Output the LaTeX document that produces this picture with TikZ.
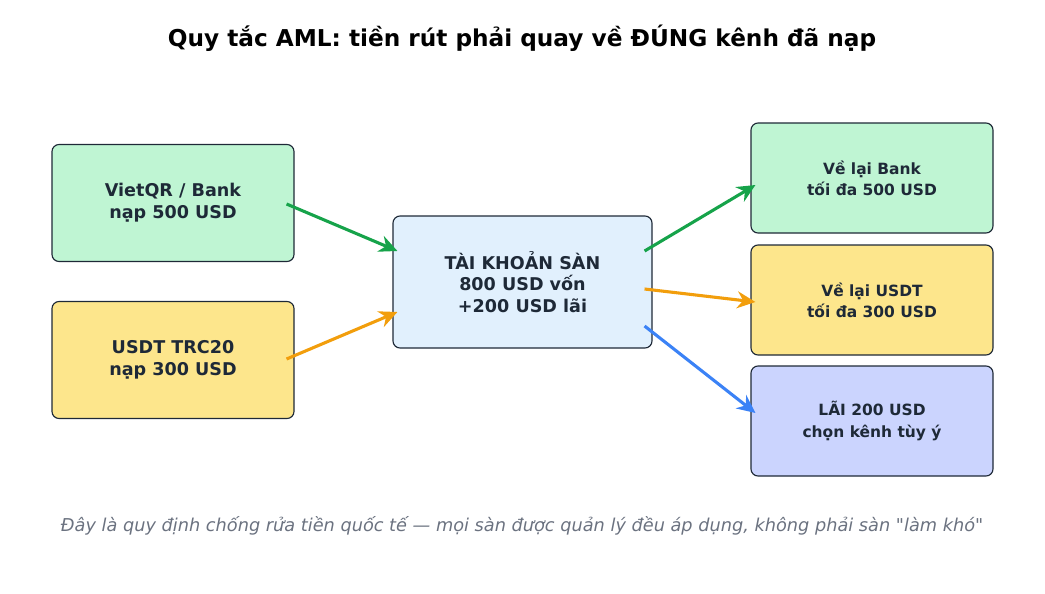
\documentclass[tikz,border=0pt]{standalone}
\usepackage{fontspec}
\setmainfont{DejaVu Sans}[Ligatures=TeXOff]
\usetikzlibrary{arrows.meta,calc}
\definecolor{boxgreen}{HTML}{BFF5D3}
\definecolor{boxyellow}{HTML}{FDE68C}
\definecolor{boxblue}{HTML}{E1F0FD}
\definecolor{boxviolet}{HTML}{CBD4FE}
\definecolor{edge}{HTML}{1E2937}
\definecolor{argreen}{HTML}{16A34A}
\definecolor{arorange}{HTML}{F29E0C}
\definecolor{arblue}{HTML}{3B82F6}
\definecolor{note}{HTML}{6B7280}
\tikzset{
  box/.style={draw=edge,line width=0.8pt,rounded corners=5pt,align=center,
    font=\bfseries\fontsize{12.5}{15.5}\selectfont,text=edge,inner sep=0pt},
  smallbox/.style={box,font=\bfseries\fontsize{11}{15}\selectfont},
  flow/.style={line width=2.2pt,-{Stealth[length=13pt,width=12pt]}}
}
\begin{document}
\begin{tikzpicture}[x=0.025cm,y=-0.025cm]
	\useasboundingbox (0,0) rectangle (1045,593);
	\node[font=\bfseries\fontsize{16.5}{18}\selectfont] (title) at (522,38) {Quy tắc AML: tiền rút phải quay về ĐÚNG kênh đã nạp};
	
	\node[box,fill=boxgreen,minimum width=242*0.025cm,minimum height=117*0.025cm] (viet) at (173,203) {VietQR / Bank\\nạp 500 USD};
	\node[box,fill=boxyellow,minimum width=242*0.025cm,minimum height=117*0.025cm] (usdt) at (173,360) {USDT TRC20\\nạp 300 USD};
	\node[box,fill=boxblue,minimum width=259*0.025cm,minimum height=132*0.025cm] (acct) at (522.5,282) {TÀI KHOẢN SÀN\\800 USD vốn\\+200 USD lãi};
	\node[smallbox,fill=boxgreen,minimum width=242*0.025cm,minimum height=110*0.025cm] (bank) at (872,178) {Về lại Bank\\tối đa 500 USD};
	\node[smallbox,fill=boxyellow,minimum width=242*0.025cm,minimum height=110*0.025cm] (back) at (872,300) {Về lại USDT\\tối đa 300 USD};
	\node[smallbox,fill=boxviolet,minimum width=242*0.025cm,minimum height=110*0.025cm] (gain) at (872,421) {LÃI 200 USD\\chọn kênh tùy ý};
	
	\draw[flow,argreen] ($(viet.east)+(-8,1)$) -- ($(acct.west)+(5,-31)$);
	\draw[flow,arorange] ($(usdt.east)+(-8,-1)$) -- ($(acct.west)+(5,30)$);
	\draw[flow,argreen] ($(acct.east)+(-8,-31)$) -- ($(bank.west)+(5,7)$);
	\draw[flow,arorange] ($(acct.east)+(-8,7)$) -- ($(back.west)+(5,2)$);
	\draw[flow,arblue] ($(acct.east)+(-8,44)$) -- ($(gain.west)+(5,-8)$);
	
	\node[font=\itshape\fontsize{12.6}{14}\selectfont,text=note] (foot) at (522,526) {Đây là quy định chống rửa tiền quốc tế — mọi sàn được quản lý đều áp dụng, không phải sàn "làm khó"};
\end{tikzpicture}
\end{document}
